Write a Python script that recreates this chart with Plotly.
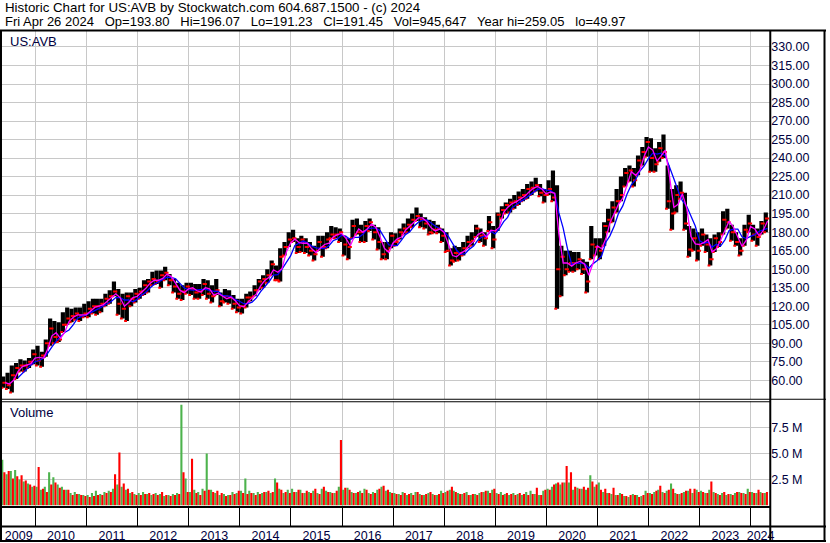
import pandas as pd
import plotly.graph_objects as go

# monthly price data (May 2009 - Apr 2024)
months = pd.date_range('2009-05-01', '2024-04-01', freq='MS')

high = [
    63, 66, 72, 74, 77, 76, 78, 85,                              # 2009
    88, 83, 93, 110, 108, 107, 115, 119, 118, 119, 119, 122,     # 2010
    124, 126, 126, 126, 130, 133, 140, 134, 130, 131, 131, 134,  # 2011
    135, 141, 142, 148, 149, 149, 152, 146, 142, 139, 137, 139,  # 2012
    139, 138, 138, 142, 141, 137, 142, 131, 134, 133, 129, 126,  # 2013
    126, 130, 132, 137, 142, 145, 150, 157, 153, 167, 172, 180,  # 2014
    182, 175, 177, 175, 172, 169, 177, 177, 180, 185, 184, 183,  # 2015
    177, 175, 190, 191, 186, 189, 191, 186, 184, 172, 172, 180,  # 2016
    179, 183, 187, 191, 195, 200, 195, 192, 190, 189, 186, 183,  # 2017
    180, 167, 169, 168, 172, 177, 180, 186, 183, 180, 193, 185,  # 2018
    196, 201, 204, 207, 210, 213, 215, 219, 221, 224, 219, 215,  # 2019
    222, 230, 218, 169, 165, 165, 164, 164, 158, 156, 185, 175,  # 2020
    175, 188, 199, 205, 215, 225, 232, 234, 232, 242, 249, 257,  # 2021
    256, 248, 253, 259, 234, 215, 218, 221, 212, 185, 183, 180,  # 2022
    183, 178, 175, 178, 180, 197, 199, 186, 180, 175, 186, 194,  # 2023
    186, 183, 189, 196,                                          # 2024
]
low = [
    54, 53, 50, 61, 67, 67, 70, 73,
    72, 71, 79, 88, 90, 91, 99, 105, 107, 109, 108, 111,
    111, 114, 113, 115, 120, 122, 128, 113, 110, 108, 120, 123,
    126, 129, 131, 137, 138, 135, 141, 137, 131, 126, 125, 130,
    129, 126, 126, 129, 126, 123, 129, 120, 123, 122, 118, 115,
    114, 119, 124, 128, 133, 135, 139, 145, 141, 140, 161, 168,
    172, 163, 164, 163, 161, 157, 165, 160, 167, 175, 175, 172,
    161, 158, 175, 178, 172, 172, 181, 174, 166, 158, 158, 167,
    169, 174, 178, 180, 184, 189, 184, 183, 178, 179, 179, 172,
    164, 153, 156, 157, 161, 167, 169, 176, 172, 169, 181, 167,
    181, 191, 195, 196, 199, 202, 205, 207, 210, 213, 209, 204,
    210, 205, 118, 128, 145, 148, 148, 150, 146, 131, 158, 161,
    158, 169, 180, 188, 196, 205, 217, 221, 217, 226, 234, 241,
    229, 229, 237, 240, 199, 182, 196, 207, 182, 160, 165, 157,
    169, 164, 153, 164, 168, 178, 183, 173, 169, 161, 169, 180,
    173, 169, 178, 180,
]
close = [
    58, 56, 64, 70, 72, 72, 75, 81,
    76, 80, 90, 102, 95, 93, 105, 110, 112, 114, 112, 114,
    118, 120, 120, 122, 126, 128, 132, 122, 118, 128, 126, 130,
    132, 137, 140, 142, 140, 145, 147, 141, 136, 130, 132, 136,
    134, 131, 132, 138, 130, 128, 133, 124, 128, 127, 122, 119,
    120, 127, 127, 133, 140, 142, 145, 154, 141, 160, 168, 174,
    175, 168, 174, 168, 165, 162, 172, 168, 174, 178, 178, 180,
    170, 168, 185, 180, 180, 185, 188, 180, 172, 162, 165, 177,
    172, 180, 183, 186, 190, 193, 190, 187, 180, 182, 183, 177,
    165, 157, 163, 163, 167, 172, 173, 183, 177, 175, 188, 174,
    194, 198, 202, 204, 205, 208, 210, 215, 216, 218, 212, 210,
    215, 208, 150, 160, 150, 155, 155, 158, 150, 140, 170, 168,
    165, 185, 190, 200, 205, 210, 228, 230, 222, 238, 245, 253,
    240, 235, 248, 245, 205, 195, 210, 212, 187, 166, 175, 165,
    178, 170, 158, 175, 172, 190, 188, 180, 172, 165, 182, 187,
    178, 176, 187, 191,
]

# volume peaks per month, millions (up days green, down days red)
vol_up = [
    4.4, 3.0, 3.3, 3.4, 2.5, 2.3, 2.1, 1.8,
    1.8, 1.5, 1.8, 3.2, 2.7, 2.0, 1.8, 1.5, 1.2, 1.3, 1.1, 1.0,
    1.0, 1.2, 1.4, 1.1, 1.3, 1.4, 1.6, 2.0, 1.8, 1.5, 1.2, 1.1,
    1.2, 1.3, 1.1, 1.0, 1.2, 1.1, 0.9, 1.0, 1.1, 1.2, 9.7, 2.6,
    1.3, 1.5, 1.3, 1.6, 5.0, 1.5, 1.2, 1.0, 1.1, 1.0, 1.3, 1.2,
    1.4, 2.6, 1.4, 1.2, 1.3, 1.2, 1.3, 1.2, 2.6, 1.6, 1.2, 1.5,
    1.6, 1.3, 1.5, 1.2, 1.3, 1.4, 1.2, 1.6, 1.4, 1.3, 1.2, 1.8,
    1.5, 1.7, 1.3, 1.2, 1.4, 1.6, 1.2, 1.3, 1.5, 1.8, 1.4, 1.3,
    1.2, 1.1, 1.3, 1.0, 1.2, 1.3, 1.1, 1.0, 1.2, 1.1, 1.0, 1.4,
    1.3, 1.5, 1.4, 1.2, 1.1, 1.3, 1.0, 1.1, 1.2, 1.3, 1.4, 1.5,
    1.2, 1.3, 1.1, 1.0, 1.2, 1.1, 1.0, 1.3, 1.4, 1.1, 1.0, 1.4,
    1.6, 1.8, 2.1, 2.0, 2.2, 2.2, 1.5, 1.7, 1.6, 1.5, 2.9, 1.8,
    2.2, 1.3, 1.2, 1.1, 1.0, 1.2, 0.9, 0.8, 1.1, 1.0, 0.9, 1.4,
    1.2, 1.3, 1.5, 1.3, 1.4, 2.1, 1.2, 1.1, 1.3, 1.4, 1.2, 1.5,
    1.4, 1.2, 1.5, 1.3, 1.1, 1.2, 1.0, 1.1, 1.2, 1.3, 1.2, 1.6,
    1.3, 1.2, 1.3, 1.2,
]
vol_dn = [
    3.2, 3.3, 2.6, 2.8, 2.9, 2.4, 2.0, 1.9,
    3.7, 1.6, 1.3, 2.0, 2.2, 1.7, 1.5, 1.5, 1.0, 1.1, 1.0, 0.9,
    0.8, 0.9, 1.0, 1.0, 1.2, 1.3, 3.0, 5.1, 2.1, 1.6, 1.3, 1.0,
    1.0, 1.1, 1.2, 1.1, 1.0, 1.3, 1.0, 0.9, 1.0, 1.1, 3.2, 1.3,
    4.5, 1.2, 1.0, 1.4, 1.5, 1.3, 1.4, 1.2, 0.9, 1.0, 1.1, 1.4,
    1.2, 1.1, 1.2, 1.0, 1.1, 1.3, 1.4, 1.3, 2.2, 1.5, 1.3, 1.2,
    1.3, 1.5, 1.2, 1.4, 1.2, 1.6, 1.1, 1.8, 1.3, 1.2, 1.4, 6.3,
    1.7, 1.5, 1.2, 1.3, 1.2, 1.5, 1.1, 1.2, 1.6, 1.9, 1.5, 1.2,
    1.1, 1.0, 1.2, 1.1, 1.0, 1.3, 1.0, 1.1, 1.3, 1.0, 1.1, 1.2,
    1.4, 1.8, 1.3, 1.1, 1.2, 1.0, 1.1, 1.0, 1.3, 1.4, 1.2, 1.6,
    1.1, 1.0, 1.2, 1.1, 1.0, 1.2, 1.1, 1.0, 1.1, 1.7, 1.0, 1.5,
    1.5, 2.0, 2.2, 2.2, 3.8, 3.2, 1.8, 1.6, 1.8, 1.7, 2.3, 2.0,
    1.5, 1.6, 1.2, 1.7, 1.0, 1.1, 0.9, 1.0, 1.0, 0.8, 1.0, 1.2,
    1.1, 1.4, 1.9, 1.2, 1.5, 1.6, 1.1, 1.2, 1.4, 1.6, 1.6, 1.3,
    1.3, 1.2, 2.3, 1.2, 1.0, 1.3, 1.1, 1.0, 1.3, 1.2, 1.1, 1.3,
    1.2, 1.5, 1.2, 1.3,
]

price_ticks = [60, 75, 90, 105, 120, 135, 150, 165, 180, 195, 210, 225,
               240, 255, 270, 285, 300, 315, 330]
vol_ticks = [2.5, 5.0, 7.5]
years = list(range(2009, 2025))

header1 = 'Historic Chart for US:AVB by Stockwatch.com 604.687.1500 - (c) 2024'
header2 = ('Fri Apr 26 2024\u00a0\u00a0 Op=193.80\u00a0\u00a0 Hi=196.07\u00a0\u00a0 '
           'Lo=191.23\u00a0\u00a0 Cl=191.45\u00a0\u00a0 Vol=945,647\u00a0\u00a0 '
           'Year hi=259.05\u00a0\u00a0 lo=49.97')

FONT = 'Arial, Liberation Sans, sans-serif'
NAVY = '#000040'
GRID = '#c8c8c8'
W, H = 830, 543

x_start = pd.Timestamp('2009-05-07')
x_end = pd.Timestamp('2024-05-18')

df = pd.DataFrame({'month': months, 'high': high, 'low': low, 'close': close,
                   'vol_up': vol_up, 'vol_dn': vol_dn})
df['mid'] = df['month'] + pd.Timedelta(days=15)
df['end'] = df['month'] + pd.Timedelta(days=28)
df['ma_short'] = df['close'].rolling(2, min_periods=1).mean()
df['ma_long'] = df['close'].rolling(4).mean()

day_ms = 86400000
year_starts = [pd.Timestamp(f'{y}-01-01') for y in years[1:]]
label_pos = []
for y in years:
    a = max(pd.Timestamp(f'{y}-01-01'), x_start)
    b = min(pd.Timestamp(f'{y + 1}-01-01'), x_end)
    label_pos.append(a + (b - a) / 2)


def py(px):
    return 1 - px / H


def pxx(px):
    return px / W


fig = go.Figure()

# high-low bars
fig.add_trace(go.Bar(
    x=df['mid'], y=df['high'] - df['low'], base=df['low'],
    width=30 * day_ms, marker=dict(color='black', line=dict(width=0)),
    xaxis='x', yaxis='y', hoverinfo='skip'
))
# red close ticks
fig.add_trace(go.Scatter(
    x=df['mid'] + pd.Timedelta(days=9), y=df['close'], mode='markers',
    marker=dict(symbol='line-ew', size=3, line=dict(color='#ff0000', width=2)),
    xaxis='x', yaxis='y', hoverinfo='skip'
))
# red ticks at the bar lows
fig.add_trace(go.Scatter(
    x=df['mid'] - pd.Timedelta(days=9), y=df['low'], mode='markers',
    marker=dict(symbol='line-ew', size=2, line=dict(color='#ff0000', width=2)),
    xaxis='x', yaxis='y', hoverinfo='skip'
))
# moving averages
fig.add_trace(go.Scatter(
    x=df['end'], y=df['ma_long'], mode='lines',
    line=dict(color='#0000ff', width=1.3), xaxis='x', yaxis='y'
))
fig.add_trace(go.Scatter(
    x=df['end'], y=df['ma_short'], mode='lines',
    line=dict(color='#ff00ff', width=1.3), xaxis='x', yaxis='y'
))

# volume
fig.add_trace(go.Bar(
    x=df['month'] + pd.Timedelta(days=8), y=df['vol_up'], width=15 * day_ms,
    marker=dict(color='#4db34d', line=dict(width=0)), xaxis='x2', yaxis='y2'
))
fig.add_trace(go.Bar(
    x=df['month'] + pd.Timedelta(days=23), y=df['vol_dn'], width=15 * day_ms,
    marker=dict(color='#ff0000', line=dict(width=0)), xaxis='x2', yaxis='y2'
))

# empty trace so the year band axis gets drawn
fig.add_trace(go.Scatter(x=[x_start, x_end], y=[None, None], mode='lines',
                         xaxis='x3', yaxis='y3', hoverinfo='skip'))

xdom = [pxx(2), pxx(774)]
common_x = dict(domain=xdom, type='date', range=[x_start, x_end],
                showticklabels=False, ticks='', tickmode='array',
                tickvals=year_starts, showgrid=True, gridcolor=GRID,
                gridwidth=1, zeroline=False, showline=False)

fig.update_layout(
    width=W, height=H,
    margin=dict(l=0, r=0, t=0, b=0),
    paper_bgcolor='white', plot_bgcolor='white',
    showlegend=False, barmode='overlay',
    font=dict(family=FONT, color=NAVY),
    xaxis=dict(anchor='y', **common_x),
    yaxis=dict(domain=[py(400), py(31)], range=[44.6, 343], side='right',
               tickmode='array', tickvals=price_ticks,
               ticktext=[f'{v:.2f}' for v in price_ticks],
               tickfont=dict(size=12.5, color=NAVY, family=FONT),
               showgrid=True, gridcolor=GRID, gridwidth=1,
               zeroline=False, ticks='', anchor='x'),
    xaxis2=dict(anchor='y2', matches='x', **common_x),
    yaxis2=dict(domain=[py(507), py(402)], range=[-0.067, 10.03], side='right',
                tickmode='array', tickvals=vol_ticks,
                ticktext=[f'{v:.1f} M' for v in vol_ticks],
                tickfont=dict(size=12.5, color=NAVY, family=FONT),
                showgrid=True, gridcolor=GRID, gridwidth=1,
                zeroline=False, ticks='', anchor='x2'),
    xaxis3=dict(anchor='y3', domain=xdom, type='date', range=[x_start, x_end],
                tickmode='array', tickvals=label_pos,
                ticktext=[str(y) for y in years], ticks='',
                tickfont=dict(size=12.5, color=NAVY, family=FONT),
                showgrid=False, zeroline=False, showline=False,
                minor=dict(tickmode='array', tickvals=year_starts,
                           showgrid=True, gridcolor='black', gridwidth=1.2)),
    yaxis3=dict(domain=[py(527), py(508)], range=[0, 1], visible=False,
                anchor='x3'),
)

# frame lines
black = dict(color='black', width=2)
thin = dict(color='black', width=1)
shapes = [
    dict(type='line', xref='paper', yref='paper', x0=0, x1=1, y0=py(30.5), y1=py(30.5), line=black),
    dict(type='line', xref='paper', yref='paper', x0=pxx(1), x1=pxx(1), y0=0, y1=py(30.5), line=black),
    dict(type='line', xref='paper', yref='paper', x0=pxx(774), x1=pxx(774), y0=0, y1=py(30.5), line=black),
    dict(type='line', xref='paper', yref='paper', x0=pxx(828.5), x1=pxx(828.5), y0=0, y1=py(30.5), line=black),
    dict(type='line', xref='paper', yref='paper', x0=0, x1=1, y0=py(400), y1=py(400), line=thin),
    dict(type='line', xref='paper', yref='paper', x0=0, x1=pxx(774), y0=py(402.5), y1=py(402.5), line=thin),
    dict(type='line', xref='paper', yref='paper', x0=0, x1=pxx(774), y0=py(508), y1=py(508), line=black),
    dict(type='line', xref='paper', yref='paper', x0=0, x1=1, y0=py(527.5), y1=py(527.5), line=black),
    dict(type='line', xref='paper', yref='paper', x0=0, x1=1, y0=py(542), y1=py(542), line=black),
]
fig.update_layout(shapes=shapes)

# texts
fig.add_annotation(text=header1, xref='paper', yref='paper', x=pxx(3), y=py(8),
                   xanchor='left', yanchor='middle', showarrow=False,
                   font=dict(size=13.3, color='black', family=FONT))
fig.add_annotation(text=header2, xref='paper', yref='paper', x=pxx(3), y=py(21.5),
                   xanchor='left', yanchor='middle', showarrow=False,
                   font=dict(size=13, color='black', family=FONT))
fig.add_annotation(text='US:AVB', xref='paper', yref='paper', x=pxx(8), y=py(41.5),
                   xanchor='left', yanchor='middle', showarrow=False,
                   font=dict(size=13, color=NAVY, family=FONT))
fig.add_annotation(text='Volume', xref='paper', yref='paper', x=pxx(8), y=py(413),
                   xanchor='left', yanchor='middle', showarrow=False,
                   font=dict(size=13, color=NAVY, family=FONT))

# page has a default body margin; remove it so the chart sits at 0,0
fig.write_html('out.html', config={'displayModeBar': False},
               post_script="document.body.style.margin='0';")
